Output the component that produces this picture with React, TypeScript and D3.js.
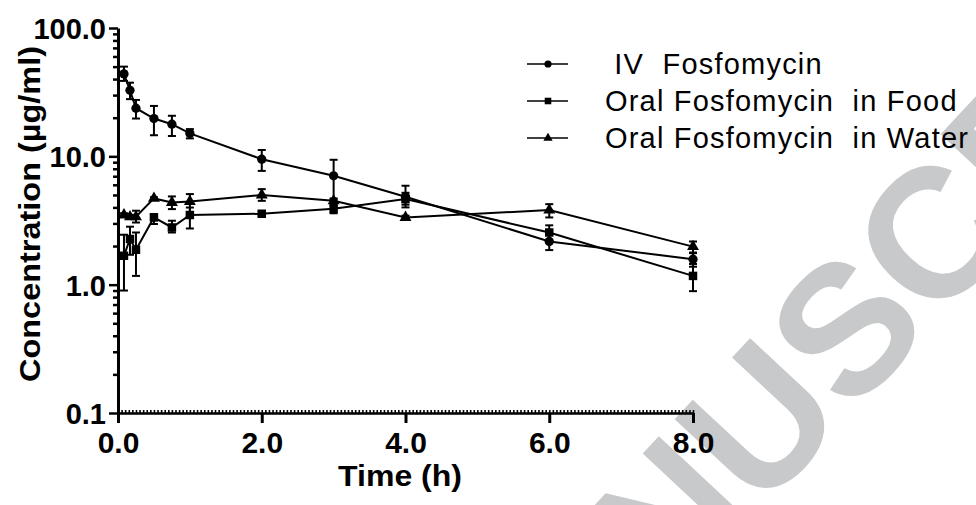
import React, { useRef, useEffect } from 'react';
import * as d3 from 'd3';

// sampling times (h)
const times = [0.083, 0.167, 0.25, 0.5, 0.75, 1, 2, 3, 4, 6, 8];

// IV fosfomycin (ug/ml)
const ivMean = [43.9, 32.7, 23.7, 19.7, 17.8, 15.1, 9.5, 7.05, 4.84, 2.17, 1.58];
const ivLow = [38.7, 27.9, 19.7, 14.6, 14.4, 13.8, 7.7, 4.6, 4.0, 1.86, 1.38];
const ivHigh = [50, 37.5, 27.5, 24.7, 20.7, 16.3, 11.2, 9.4, 5.9, 2.48, 1.76];

// oral fosfomycin in food
const foodMean = [1.68, 2.27, 1.87, 3.34, 2.79, 3.49, 3.57, 3.9, 4.64, 2.55, 1.17];
const foodLow = [0.9, 1.71, 1.17, 2.97, 2.55, 2.74, 3.45, 3.6, 4.2, 2.2, 0.89];
const foodHigh = [2.45, 2.83, 2.55, 3.55, 3.15, 3.99, 3.7, 4.2, 5.2, 2.9, 1.45];

// oral fosfomycin in water
const waterMean = [3.49, 3.38, 3.38, 4.7, 4.37, 4.45, 5.0, 4.5, 3.34, 3.81, 1.98];
const waterLow = [3.4, 3.3, 3.05, 4.6, 3.88, 3.45, 4.5, 4.3, 3.25, 3.34, 1.78];
const waterHigh = [3.6, 3.5, 3.77, 4.8, 4.87, 5.08, 5.55, 4.7, 3.45, 4.24, 2.17];

const xTicks = [0, 2, 4, 6, 8];
const yTicks = [0.1, 1, 10, 100];
const legendLabels = [' IV  Fosfomycin', 'Oral Fosfomycin  in Food', 'Oral Fosfomycin  in Water'];

export default function App() {
  const svgRef = useRef<SVGSVGElement>(null);

  useEffect(() => {
    const svg = d3.select(svgRef.current);
    svg.selectAll('*').remove();

    const xScale = d3.scaleLinear().domain([0, 8]).range([118, 693]);
    const yScale = d3.scaleLog().domain([0.1, 100]).range([413, 28]);

    // watermark
    svg.append('text')
      .attr('transform', 'translate(474,820) rotate(-47)')
      .attr('font-family', 'Liberation Sans, Arial, sans-serif')
      .attr('font-weight', 'bold')
      .attr('font-size', 184)
      .attr('fill', '#c8c9cb')
      .text('MANUSCRIPT');

    const font = 'Liberation Sans, Arial, Helvetica, sans-serif';

    // y axis
    const minorY: number[] = [];
    [0.1, 1, 10].forEach(d => d3.range(2, 10).forEach(k => minorY.push(d * k)));

    const yMinor = d3.axisLeft(yScale).tickValues(minorY).tickSize(5).tickSizeOuter(0).tickFormat(() => '');
    svg.append('g').attr('transform', 'translate(118,0)').call(yMinor)
      .call(g => g.selectAll('line').attr('stroke-width', 2.5))
      .call(g => g.select('.domain').remove());

    const yAxis = d3.axisLeft(yScale).tickValues(yTicks).tickSize(9).tickSizeOuter(0).tickPadding(3)
      .tickFormat(d3.format('.1f'));
    svg.append('g').attr('class', 'y-axis').attr('transform', 'translate(118,0)').call(yAxis)
      .call(g => g.select('.domain').attr('stroke-width', 3))
      .call(g => g.selectAll('line').attr('stroke-width', 2.5))
      .call(g => g.selectAll('text')
        .attr('font-family', font).attr('font-weight', 'bold').attr('font-size', 29)
        .attr('fill', '#000').attr('dy', '0.36em'));

    // x axis
    const xMinor = d3.axisBottom(xScale).tickValues(d3.range(0, 8.001, 0.05)).tickSize(-3).tickSizeOuter(0)
      .tickFormat(() => '');
    svg.append('g').attr('transform', 'translate(0,413)').call(xMinor)
      .call(g => g.selectAll('line').attr('stroke-width', 1.6))
      .call(g => g.select('.domain').attr('stroke-width', 2.5));

    const xAxis = d3.axisBottom(xScale).tickValues(xTicks).tickSize(10).tickSizeOuter(0).tickPadding(9)
      .tickFormat(d3.format('.1f'));
    svg.append('g').attr('class', 'x-axis').attr('transform', 'translate(0,413)').call(xAxis)
      .call(g => g.select('.domain').remove())
      .call(g => g.selectAll('line').attr('stroke-width', 3))
      .call(g => g.selectAll('text')
        .attr('font-family', font).attr('font-weight', 'bold').attr('font-size', 30)
        .attr('fill', '#000'));

    // axis titles
    svg.append('text')
      .attr('x', 400).attr('y', 486)
      .attr('text-anchor', 'middle')
      .attr('font-family', font).attr('font-weight', 'bold').attr('font-size', 29)
      .attr('textLength', 124).attr('lengthAdjust', 'spacingAndGlyphs')
      .text('Time (h)');

    svg.append('text')
      .attr('transform', 'translate(40,214) rotate(-90)')
      .attr('text-anchor', 'middle')
      .attr('font-family', font).attr('font-weight', 'bold').attr('font-size', 30)
      .attr('textLength', 336).attr('lengthAdjust', 'spacingAndGlyphs')
      .text('Concentration (µg/ml)');

    const series = [
      { mean: ivMean, low: ivLow, high: ivHigh, symbol: d3.symbolCircle, size: 68 },
      { mean: foodMean, low: foodLow, high: foodHigh, symbol: d3.symbolSquare, size: 72 },
      { mean: waterMean, low: waterLow, high: waterHigh, symbol: d3.symbolTriangle, size: 62 },
    ];

    const myLine = d3.line<number>()
      .x((v, i) => xScale(times[i]))
      .y(v => yScale(v));

    series.forEach(s => {
      const g = svg.append('g');
      g.append('path')
        .attr('d', myLine(s.mean))
        .attr('fill', 'none')
        .attr('stroke', '#000')
        .attr('stroke-width', 2);

      // error bars
      const eb = g.selectAll('.eb').data(times).join('g').attr('class', 'eb');
      eb.append('line')
        .attr('x1', t => xScale(t)).attr('x2', t => xScale(t))
        .attr('y1', (t, i) => yScale(s.low[i])).attr('y2', (t, i) => yScale(s.high[i]))
        .attr('stroke', '#000').attr('stroke-width', 2);
      [s.low, s.high].forEach(arr => {
        eb.append('line')
          .attr('x1', t => xScale(t) - 4).attr('x2', t => xScale(t) + 4)
          .attr('y1', (t, i) => yScale(arr[i])).attr('y2', (t, i) => yScale(arr[i]))
          .attr('stroke', '#000').attr('stroke-width', 2);
      });

      g.selectAll('.pt').data(s.mean).join('path').attr('class', 'pt')
        .attr('d', d3.symbol().type(s.symbol).size(s.size)())
        .attr('transform', (v, i) => `translate(${xScale(times[i])},${yScale(v)})`)
        .attr('fill', '#000');
    });

    // legend
    const legendY = d3.scalePoint<number>().domain([0, 1, 2]).range([64, 138]);
    const lg = svg.selectAll('.legend').data(legendLabels).join('g').attr('class', 'legend')
      .attr('transform', (d, i) => `translate(527,${legendY(i)})`);
    lg.append('line').attr('x1', 0).attr('x2', 41).attr('y1', 0).attr('y2', 0)
      .attr('stroke', '#000').attr('stroke-width', 1.5);
    lg.append('path')
      .attr('d', (d, i) => d3.symbol().type(series[i].symbol).size(series[i].size * 0.6)())
      .attr('transform', 'translate(21,0)')
      .attr('fill', '#000');
    lg.append('text')
      .attr('x', 78).attr('dy', '0.36em')
      .attr('font-family', font).attr('font-size', 29)
      .attr('letter-spacing', 1.2)
      .style('white-space', 'pre')
      .text(d => d);
  }, []);

  return (
    <svg ref={svgRef} width={976} height={505}
      style={{ position: 'absolute', left: 0, top: 0, background: '#fff' }} />
  );
}
